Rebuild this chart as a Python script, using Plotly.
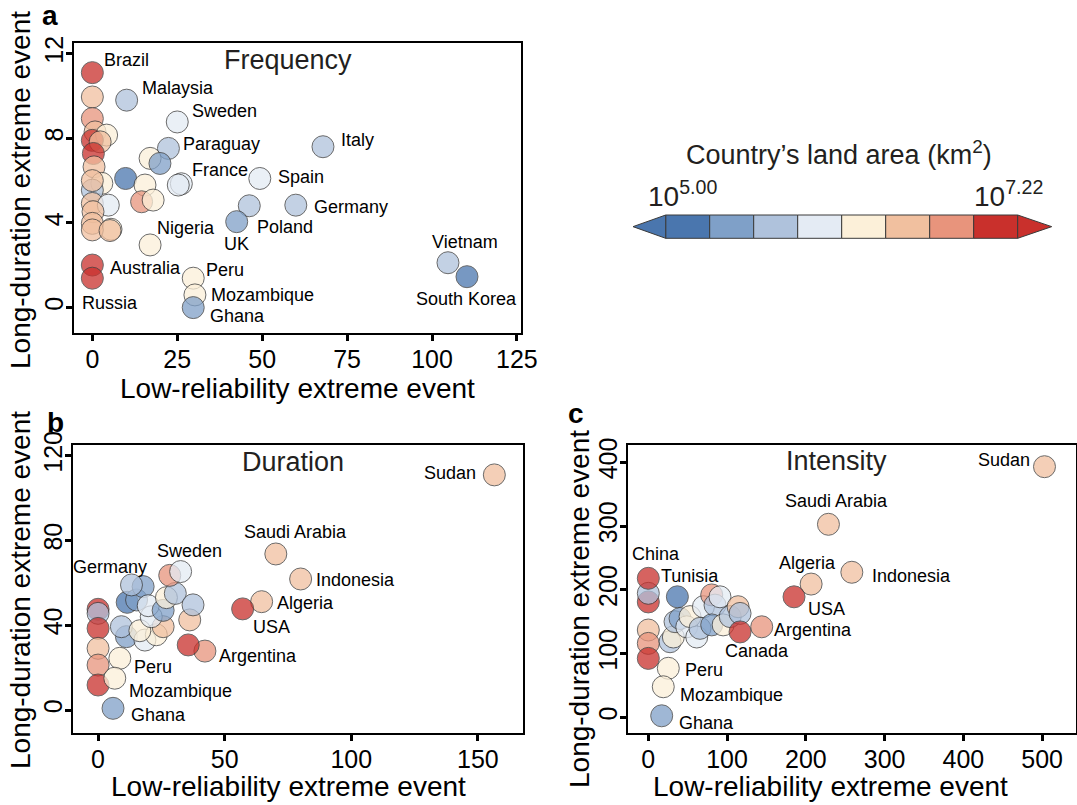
import plotly.graph_objects as go

W, H = 1077, 805

# ---------------- data ----------------
# Panel a: Frequency
FREQ_COUNTRY = ["", "", "", "", "", "", "", "", "", "", "", "", "", "", "", "", "", "",
                "Brazil", "Malaysia", "Sweden", "Paraguay", "", "", "", "", "", "France",
                "", "", "Spain", "Italy", "Germany", "Poland", "UK", "Nigeria",
                "Australia", "Russia", "Peru", "Mozambique", "Ghana", "Vietnam", "South Korea"]
FREQ_LOW = [0.0, 0.0, 0.8, 5.5, 4.2, 0.0, 2.3, 0.3, 0.5, 2.8, 0.0, 0.0, 4.7, 0.2, 0.0, 0.0, 5.2, 0.0,
            0.0, 10.1, 25.0, 22.4, 17.0, 19.9, 9.8, 15.5, 26.2, 25.3,
            14.5, 17.9, 49.3, 67.9, 59.9, 46.2, 42.5, 17.0,
            0.0, 0.0, 29.7, 30.2, 29.7, 104.7, 110.3]
FREQ_LONG = [9.95, 8.93, 8.30, 3.70, 8.15, 7.90, 7.83, 7.28, 6.65, 5.87, 5.55, 4.92, 4.84, 4.53, 3.98, 3.67, 3.64, 6.0,
             11.10, 9.80, 8.77, 7.52, 7.05, 6.81, 6.10, 5.79, 5.85, 5.79,
             5.00, 5.08, 6.10, 7.60, 4.84, 4.81, 4.06, 2.96,
             2.01, 1.39, 1.39, 0.60, 0.00, 2.12, 1.46]
FREQ_AREA = [6.5, 6.75, 6.5, 6.2, 6.2, 7.0, 6.5, 7.1, 6.5, 6.2, 5.7, 6.5, 5.9, 6.5, 6.5, 6.5, 6.5, 6.5,
             7.0, 5.7, 5.9, 5.7, 6.2, 5.5, 5.1, 6.2, 5.9, 5.9,
             6.75, 6.2, 5.9, 5.7, 5.7, 5.7, 5.4, 6.2,
             7.0, 7.22, 6.3, 6.15, 5.4, 5.7, 5.05]

# Panel b: Duration
DUR_COUNTRY = ["", "", "", "", "", "", "", "", "", "", "", "", "", "", "", "", "", "", "",
               "", "", "", "", "Germany", "Sweden", "Argentina", "", "Algeria", "USA",
               "Indonesia", "Saudi Arabia", "Sudan", "Peru", "Mozambique", "Ghana"]
DUR_LOW = [0.0, 0.0, 0.0, 0.0, 0.0, 0.0, 11.2, 18.5, 23.0, 9.2, 16.5, 25.7, 21.0, 11.5, 15.2, 17.8,
           19.8, 25.7, 27.0, 30.5, 28.3, 36.2, 37.5, 13.2, 32.6, 42.2, 35.6, 64.6, 57.1,
           80.0, 70.2, 156.5, 8.6, 6.6, 5.9]
DUR_LONG = [47.5, 45.6, 38.5, 29.1, 21.2, 11.8, 34.6, 33.0, 35.5, 39.3, 37.4, 39.3, 44.0, 50.8, 51.9, 58.2,
            49.2, 47.0, 53.0, 55.0, 63.5, 42.5, 49.6, 59.0, 65.3, 27.8, 30.7, 51.1, 47.7,
            61.8, 73.6, 110.9, 24.4, 15.0, 0.8]
DUR_AREA = [7.0, 5.7, 7.0, 6.5, 6.9, 7.1, 5.4, 5.9, 6.2, 5.7, 6.2, 6.5, 5.9, 5.1, 5.4, 5.4,
            5.95, 5.4, 6.2, 5.7, 6.75, 6.5, 5.7, 5.7, 5.9, 6.75, 7.0, 6.6, 7.0,
            6.5, 6.5, 6.5, 6.2, 6.15, 5.4]

# Panel c: Intensity
INT_COUNTRY = ["", "", "", "", "", "", "", "", "", "", "", "", "", "", "", "", "", "", "",
               "", "", "China", "Tunisia", "", "Canada", "Argentina", "Algeria", "USA",
               "Indonesia", "Saudi Arabia", "Sudan", "Peru", "Mozambique", "Ghana"]
INT_LOW = [0.0, 0.0, 0.0, 0.0, 0.0, 27.6, 31.8, 33.9, 40.3, 48.8, 53.0, 61.5, 65.7, 70.0, 80.5,
           84.7, 80.5, 91.0, 95.0, 104.0, 114.0, 0.0, 36.9, 116.5, 116.5, 144.0, 206.7, 185.0,
           258.4, 228.7, 503.0, 25.4, 19.0, 17.0]
INT_LONG = [181.0, 194.5, 137.0, 116.0, 92.5, 118.6, 126.0, 150.0, 155.0, 142.0, 158.0, 126.0, 139.6, 173.5, 192.0,
            176.0, 145.0, 189.0, 145.0, 158.0, 173.5, 218.0, 189.0, 163.0, 134.0, 142.0, 209.0, 189.0,
            227.5, 302.7, 393.0, 77.0, 48.0, 2.5]
INT_AREA = [7.0, 5.7, 6.5, 6.8, 7.1, 5.7, 6.2, 5.7, 5.4, 5.9, 6.2, 5.9, 5.7, 6.0, 6.75,
            5.7, 5.4, 5.9, 6.2, 5.7, 6.5, 7.0, 5.2, 5.7, 7.0, 6.75, 6.6, 7.0,
            6.5, 6.5, 6.5, 6.2, 6.15, 5.4]

# Colour classes of the land-area scale (log10 km2)
AREA_MIN, AREA_MAX = 5.0, 7.22
BIN_COLORS = ["#4a76ae", "#7fa0c8", "#afc2dc", "#e4ebf4",
              "#fcf0d9", "#f1c09f", "#e8947c", "#c9302c"]

# ---------------- style ----------------
FONT = "Liberation Sans, Arial, sans-serif"
INK = "#231f20"


def px(x):
    return x / W


def py(y):
    return 1 - y / H


n = len(BIN_COLORS)
colorscale = []
for k, c in enumerate(BIN_COLORS):
    colorscale.append([k / n, c])
    colorscale.append([(k + 1) / n, c])

LABELS_A = {
    "Brazil": ("left", 10, 13), "Malaysia": ("left", 13, 12), "Sweden": ("left", 13, 11),
    "Paraguay": ("left", 13, 4), "France": ("left", 12, 15), "Spain": ("left", 16, 1),
    "Italy": ("left", 16, 7), "Germany": ("left", 16, -2), "Poland": ("left", 6, -21),
    "UK": ("center", 0, -22), "Nigeria": ("left", 5, 17), "Australia": ("left", 16, -3),
    "Russia": ("left", -12, -25), "Peru": ("left", 11, 8), "Mozambique": ("left", 14, 0),
    "Ghana": ("left", 15, -8), "Vietnam": ("center", 17, 21), "South Korea": ("center", 0, -22),
}
LABELS_B = {
    "Sudan": ("right", -16, 2), "Saudi Arabia": ("left", -34, 22), "Indonesia": ("left", 13, -1),
    "Algeria": ("left", 13, -1), "USA": ("left", 8, -18), "Argentina": ("left", 12, -5),
    "Sweden": ("center", 9, 21), "Germany": ("right", 18, 18), "Peru": ("left", 12, -9),
    "Mozambique": ("left", 12, -13), "Ghana": ("left", 16, -7),
}
LABELS_C = {
    "Sudan": ("right", -12, 7), "Saudi Arabia": ("center", 8, 23), "Algeria": ("center", -4, 21),
    "Indonesia": ("left", 18, -4), "USA": ("left", 12, -12), "Argentina": ("left", 10, -3),
    "Canada": ("center", 17, -19), "China": ("center", 8, 24), "Tunisia": ("center", 13, 21),
    "Peru": ("left", 15, -2), "Mozambique": ("left", 15, -8), "Ghana": ("left", 15, -7),
}

panels = [
    dict(country=FREQ_COUNTRY, x=FREQ_LOW, y=FREQ_LONG, area=FREQ_AREA, labels=LABELS_A,
         ax="", box=(74, 521, 43, 333), xr=[-5.4, 126.2], yr=[-1.2, 12.5],
         xt=[0, 25, 50, 75, 100, 125], yt=[0, 4, 8, 12],
         title="Frequency", tpos=(288, 60), letter="a", lpos=(50, 16),
         ytitle=(20, 190), xtitle=(297, 388)),
    dict(country=DUR_COUNTRY, x=DUR_LOW, y=DUR_LONG, area=DUR_AREA, labels=LABELS_B,
         ax="2", box=(73, 522.7, 445, 732.7), xr=[-9.9, 167.7], yr=[-10.7, 125],
         xt=[0, 50, 100, 150], yt=[0, 40, 80, 120],
         title="Duration", tpos=(293, 462), letter="b", lpos=(55, 422),
         ytitle=(20, 590), xtitle=(288, 786)),
    dict(country=INT_COUNTRY, x=INT_LOW, y=INT_LONG, area=INT_AREA, labels=LABELS_C,
         ax="3", box=(628.3, 1076, 445, 732.7), xr=[-25.4, 543], yr=[-24, 427],
         xt=[0, 100, 200, 300, 400, 500], yt=[0, 100, 200, 300, 400],
         title="Intensity", tpos=(836, 461), letter="c", lpos=(576, 413),
         ytitle=(579, 609), xtitle=(830, 786)),
]

fig = go.Figure()
annotations = []
layout_axes = {}

for p in panels:
    xa = "x" + p["ax"]
    ya = "y" + p["ax"]
    fig.add_trace(go.Scatter(
        x=p["x"], y=p["y"], mode="markers", xaxis=xa, yaxis=ya,
        text=p["country"], hoverinfo="text+x+y",
        marker=dict(size=22, color=p["area"], colorscale=colorscale,
                    cmin=AREA_MIN, cmax=AREA_MAX, opacity=0.75,
                    line=dict(color="#3a3a3a", width=1)),
        showlegend=False,
    ))
    x0, x1, y0, y1 = p["box"]
    axis_common = dict(showline=True, linecolor="black", linewidth=2, mirror=True,
                       ticks="outside", ticklen=6, tickwidth=2.5, tickcolor="black",
                       showgrid=False, zeroline=False, automargin=False,
                       tickfont=dict(size=25, color="black", family=FONT))
    layout_axes["xaxis" + p["ax"]] = dict(domain=[px(x0), px(x1)], range=p["xr"],
                                          tickvals=p["xt"], anchor=ya,
                                          ticklabelstandoff=-3, **axis_common)
    layout_axes["yaxis" + p["ax"]] = dict(domain=[py(y1), py(y0)], range=p["yr"],
                                          tickvals=p["yt"], anchor=xa, tickangle=-90,
                                          ticklabelstandoff=-7, **axis_common)
    # country labels
    for name, xv, yv in zip(p["country"], p["x"], p["y"]):
        if name and name in p["labels"]:
            anc, dx, dy = p["labels"][name]
            annotations.append(dict(x=xv, y=yv, xref=xa, yref=ya, text=name,
                                    showarrow=False, xanchor=anc, yanchor="middle",
                                    xshift=dx, yshift=dy,
                                    font=dict(size=18, color="black", family=FONT)))
    # panel title, letter, axis titles
    annotations.append(dict(x=px(p["tpos"][0]), y=py(p["tpos"][1]), xref="paper", yref="paper",
                            text=p["title"], showarrow=False, xanchor="center", yanchor="middle",
                            font=dict(size=27, color=INK, family=FONT)))
    annotations.append(dict(x=px(p["lpos"][0]), y=py(p["lpos"][1]), xref="paper", yref="paper",
                            text="<b>" + p["letter"] + "</b>", showarrow=False,
                            xanchor="center", yanchor="middle",
                            font=dict(size=28, color="black", family=FONT)))
    annotations.append(dict(x=px(p["ytitle"][0]), y=py(p["ytitle"][1]), xref="paper", yref="paper",
                            text="Long-duration extreme event", showarrow=False, textangle=-90,
                            xanchor="center", yanchor="middle",
                            font=dict(size=28, color="black", family=FONT)))
    annotations.append(dict(x=px(p["xtitle"][0]), y=py(p["xtitle"][1]), xref="paper", yref="paper",
                            text="Low-reliability extreme event", showarrow=False,
                            xanchor="center", yanchor="middle",
                            font=dict(size=28, color="black", family=FONT)))

# ---------------- colour bar with extension triangles ----------------
CB_TIP_L, CB_L, CB_R, CB_TIP_R = 633, 665.7, 1017.7, 1051.7
CB_TOP, CB_BOT = 215, 238.3
CB_MID = (CB_TOP + CB_BOT) / 2
shapes = []
step = (CB_R - CB_L) / n
for k, c in enumerate(BIN_COLORS):
    shapes.append(dict(type="rect", xref="paper", yref="paper",
                       x0=px(CB_L + k * step), x1=px(CB_L + (k + 1) * step),
                       y0=py(CB_BOT), y1=py(CB_TOP), fillcolor=c,
                       line=dict(color="#3a3a3a", width=1)))
shapes.append(dict(type="path", xref="paper", yref="paper",
                   path=f"M {px(CB_L)},{py(CB_TOP)} L {px(CB_TIP_L)},{py(CB_MID)} L {px(CB_L)},{py(CB_BOT)} Z",
                   fillcolor=BIN_COLORS[0], line=dict(color="#3a3a3a", width=1)))
shapes.append(dict(type="path", xref="paper", yref="paper",
                   path=f"M {px(CB_R)},{py(CB_TOP)} L {px(CB_TIP_R)},{py(CB_MID)} L {px(CB_R)},{py(CB_BOT)} Z",
                   fillcolor=BIN_COLORS[-1], line=dict(color="#3a3a3a", width=1)))

annotations.append(dict(x=px(839), y=py(153), xref="paper", yref="paper",
                        text="Country\u2019s land area (km<sup>2</sup>)", showarrow=False,
                        xanchor="center", yanchor="middle",
                        font=dict(size=27, color=INK, family=FONT)))
annotations.append(dict(x=px(682), y=py(194), xref="paper", yref="paper",
                        text=f"10<sup>{AREA_MIN:.2f}</sup>", showarrow=False,
                        xanchor="center", yanchor="middle",
                        font=dict(size=28, color=INK, family=FONT)))
annotations.append(dict(x=px(1008), y=py(194), xref="paper", yref="paper",
                        text=f"10<sup>{AREA_MAX:.2f}</sup>", showarrow=False,
                        xanchor="center", yanchor="middle",
                        font=dict(size=28, color=INK, family=FONT)))

fig.update_layout(
    width=W, height=H, margin=dict(l=0, r=0, t=0, b=0, autoexpand=False),
    paper_bgcolor="white", plot_bgcolor="white",
    font=dict(family=FONT, color="black"),
    annotations=annotations, shapes=shapes, showlegend=False,
    **layout_axes,
)

fig.write_html("out.html")
